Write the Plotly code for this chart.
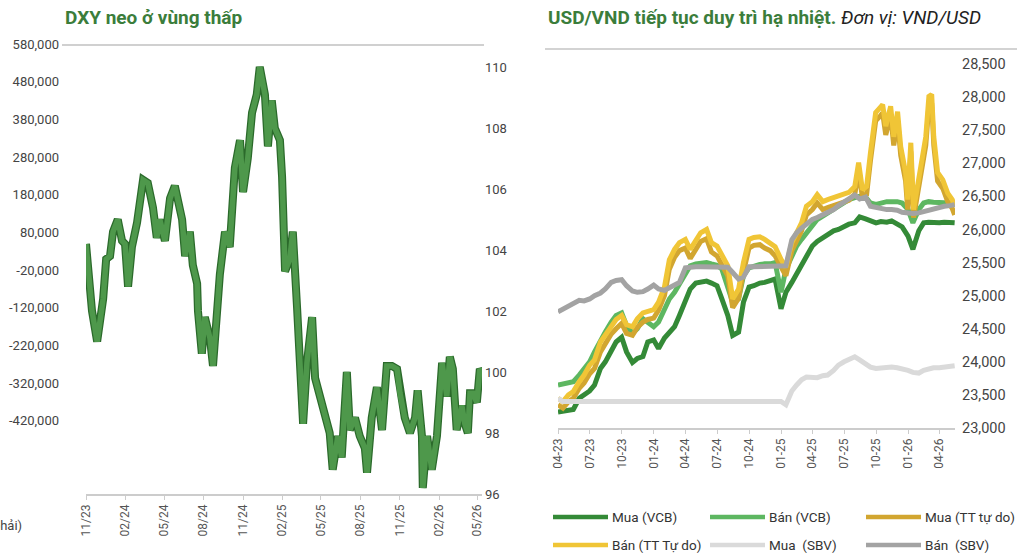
import plotly.graph_objects as go

# ---------------- Left panel: DXY ----------------
dxy_dates = ["2023-11-01","2023-11-06","2023-11-15","2023-11-27","2023-12-06","2023-12-11","2023-12-18","2023-12-27",
             "2024-01-03","2024-01-14","2024-01-24","2024-01-31","2024-02-07","2024-02-16","2024-02-28","2024-03-13",
             "2024-03-24","2024-04-05","2024-04-14","2024-04-21","2024-05-03","2024-05-15","2024-05-26","2024-06-02",
             "2024-06-12","2024-06-19","2024-06-30","2024-07-07","2024-07-17","2024-07-19","2024-07-28","2024-08-04",
             "2024-08-16","2024-08-23","2024-09-01","2024-09-08","2024-09-20","2024-10-01","2024-10-13","2024-10-25",
             "2024-11-01","2024-11-12","2024-11-22","2024-12-03","2024-12-10","2024-12-22","2024-12-29","2025-01-07",
             "2025-01-14","2025-01-26","2025-01-31","2025-02-07","2025-02-18","2025-02-25","2025-03-07","2025-03-14",
             "2025-03-21","2025-03-30","2025-04-11","2025-04-18","2025-04-29","2025-05-11","2025-05-22","2025-05-29",
             "2025-06-10","2025-06-19","2025-07-01","2025-07-08","2025-07-20","2025-07-31","2025-08-12","2025-08-17",
             "2025-08-28","2025-09-09","2025-09-21","2025-10-02","2025-10-14","2025-10-26","2025-11-02","2025-11-13",
             "2025-11-25","2025-12-07","2025-12-13","2025-12-23","2025-12-25","2026-01-04","2026-01-15","2026-01-27",
             "2026-02-08","2026-02-19","2026-02-26","2026-03-05","2026-03-14","2026-03-26","2026-04-02","2026-04-09",
             "2026-04-14","2026-04-21","2026-04-30","2026-05-07","2026-05-12"]
dxy_values = [104.2,103.5,102.0,101.0,101.8,102.4,103.7,103.8,
              104.6,105.0,104.3,104.2,102.8,104.1,104.9,106.3,
              106.2,105.4,104.4,105.0,104.3,105.7,106.1,105.6,
              105.0,103.8,104.6,103.5,102.9,102.0,100.6,101.8,
              101.1,100.2,102.3,103.2,104.6,104.1,106.7,107.6,
              105.9,107.0,108.5,109.1,110.0,109.1,107.4,108.9,
              108.0,107.6,106.4,103.3,103.7,104.6,102.1,100.3,
              98.3,100.3,101.8,99.8,99.2,98.6,98.0,96.8,
              97.9,97.2,100.0,98.1,98.5,97.9,97.5,96.7,
              98.5,99.5,98.1,100.2,100.2,100.1,99.3,98.5,
              98.0,98.5,99.4,97.9,96.2,97.9,96.8,97.9,
              100.3,99.2,100.5,100.1,98.1,98.9,98.3,98.0,
              99.3,99.3,99.0,100.1,100.0]

left_xtick_vals = ["2023-11-01","2024-02-01","2024-05-01","2024-08-01","2024-11-01","2025-02-01",
                   "2025-05-01","2025-08-01","2025-11-01","2026-02-01","2026-05-01"]
left_xtick_text = ["11/23","02/24","05/24","08/24","11/24","02/25","05/25","08/25","11/25","02/26","05/26"]
left_ytick_vals = [580000,480000,380000,280000,180000,80000,-20000,-120000,-220000,-320000,-420000]
left_ytick_text = ["580,000","480,000","380,000","280,000","180,000","80,000","-20,000","-120,000",
                   "-220,000","-320,000","-420,000"]
dxy_ticks = [96,98,100,102,104,106,108,110]

# ---------------- Right panel: USD/VND ----------------
vnd_dates = ["2023-04-01","2023-04-15","2023-05-01","2023-05-15","2023-06-01","2023-06-15","2023-07-01","2023-07-15",
             "2023-08-01","2023-08-15","2023-09-01","2023-09-15","2023-10-01","2023-10-15","2023-11-01","2023-11-15",
             "2023-12-01","2023-12-15",
             "2024-01-01","2024-01-15","2024-02-01","2024-02-15","2024-03-01","2024-03-15","2024-04-01","2024-04-15",
             "2024-05-01","2024-05-15","2024-06-01","2024-06-15","2024-07-01","2024-07-15","2024-08-01","2024-08-15",
             "2024-09-01","2024-09-15","2024-10-01","2024-10-15","2024-11-01","2024-11-15","2024-12-01","2024-12-15",
             "2025-01-01","2025-01-15","2025-02-01","2025-02-15","2025-03-01","2025-03-15","2025-04-01","2025-04-15",
             "2025-05-01","2025-05-15","2025-06-01","2025-06-15","2025-07-01","2025-07-15","2025-08-01","2025-08-15",
             "2025-09-01","2025-09-15","2025-10-01","2025-10-15","2025-11-01","2025-11-15","2025-12-01","2025-12-15",
             "2026-01-01","2026-01-15","2026-02-01","2026-02-15","2026-03-01","2026-03-15","2026-04-01","2026-04-15",
             "2026-05-01","2026-05-15"]

mua_vcb = [23240,23250,23270,23280,23450,23500,23560,23650,23900,24000,24150,24300,24370,24150,23990,24050,24080,24300,
           24330,24200,24360,24450,24530,24700,24930,25100,25190,25210,25220,25190,25150,24950,24700,24400,24450,24900,
           25130,25150,25190,25200,25220,25250,
           24800,25050,25200,25330,25450,25600,25750,25820,25880,25920,25980,26000,26050,26080,26100,26190,26160,26140,
           26100,26120,26110,26130,26090,26040,
           25900,25700,25980,26100,26110,26100,26100,26110,26100,26100]
ban_vcb = [23650,23660,23680,23700,23800,23900,24000,24150,24330,24450,24600,24700,24740,24550,24430,24500,24650,24600,
           24530,24600,24800,24950,25050,25180,25300,25450,25480,25490,25500,25480,25460,25400,25100,24900,24950,25300,
           25420,25450,25470,25480,25480,25500,
           25050,25400,25600,25750,25850,25950,26040,26150,26200,26250,26300,26350,26400,26450,26480,26500,26490,26400,
           26380,26400,26420,26420,26420,26400,
           26300,26100,26300,26400,26420,26410,26400,26410,26400,26400]
mua_sbv = [23450,23400,23400,23400,23400,23400,23400,23400,23400,23400,23400,23400,23400,23400,23400,23400,23400,23400,
           23400,23400,23400,23400,23400,23400,23400,23400,23400,23400,23400,23400,23400,23400,23400,23400,23400,23400,
           23400,23400,23400,23400,23400,23400,
           23400,23350,23560,23650,23730,23770,23760,23760,23790,23800,23870,23950,24000,24040,24075,24030,23980,23920,
           23900,23910,23920,23920,23910,23900,
           23870,23840,23830,23870,23900,23910,23910,23920,23930,23940]
ban_sbv = [24755,24800,24850,24890,24930,24920,24950,25000,25040,25100,25200,25230,25240,25150,25070,25050,25060,25100,
           25160,25100,25080,25120,25160,25200,25420,25435,25435,25435,25435,25435,25435,25435,25430,25350,25250,25280,
           25435,25435,25435,25435,25435,25435,
           25435,25450,25845,25950,26020,26080,26150,26180,26220,26250,26300,26360,26420,26470,26520,26460,26490,26350,
           26330,26310,26300,26300,26290,26260,
           26250,26240,26250,26270,26300,26310,26330,26350,26360,26375]

tt_dates = vnd_dates[:57] + ["2025-08-12","2025-08-23","2025-09-04","2025-09-15","2025-09-30","2025-10-14","2025-10-20",
                             "2025-10-29","2025-11-12","2025-11-21","2025-12-02","2025-12-11","2025-12-25","2025-12-31",
                             "2026-01-09","2026-01-17","2026-02-01","2026-02-12","2026-02-21","2026-03-02","2026-03-10",
                             "2026-03-16","2026-03-27","2026-04-11","2026-04-25","2026-05-08","2026-05-15"]
ban_tt = [23450,23400,23500,23550,23700,23800,23950,24030,24300,24400,24550,24640,24700,24560,24530,24650,24740,24760,
          24790,24900,25130,25540,25700,25800,25850,25700,25850,25950,26000,25800,25750,25600,25450,24950,25100,25500,
          25850,25880,25890,25850,25800,25740,
          25550,25430,25800,25950,26100,26350,26420,26525,26420,26450,26480,26500,26520,26560,26650,
          27010,26600,26650,27160,27765,27850,27885,27560,27860,27400,27780,27250,26860,26450,
          27310,26300,26800,27160,27400,28010,28040,27400,26860,26750,26550,26450,26345]
mua_tt = [23350,23300,23400,23450,23600,23680,23820,23900,24150,24280,24420,24500,24580,24430,24400,24520,24600,24640,
          24660,24780,25000,25400,25580,25680,25720,25560,25720,25820,25860,25660,25600,25450,25300,24820,24960,25360,
          25720,25760,25770,25720,25680,25600,
          25420,25300,25680,25820,25980,26220,26300,26400,26300,26330,26360,26380,26400,26440,26530,
          26880,26480,26530,27040,27640,27720,27760,27430,27730,27270,27650,27120,26730,26300,
          27180,26180,26680,27030,27270,27880,27910,27270,26730,26620,26420,26320,26220]

right_xtick_vals = ["2023-04-01","2023-07-01","2023-10-01","2024-01-01","2024-04-01","2024-07-01","2024-10-01",
                    "2025-01-01","2025-04-01","2025-07-01","2025-10-01","2026-01-01","2026-04-01"]
right_xtick_text = ["04-23","07-23","10-23","01-24","04-24","07-24","10-24","01-25","04-25","07-25","10-25",
                    "01-26","04-26"]
right_ytick_vals = [23000,23500,24000,24500,25000,25500,26000,26500,27000,27500,28000,28500]

W, H = 1024, 557
def px(x):
    return x / W
def py(y):
    return 1 - y / H

fig = go.Figure()

# DXY: dark outline + lighter core
fig.add_trace(go.Scatter(x=dxy_dates, y=dxy_values, mode="lines", xaxis="x", yaxis="y",
                         line=dict(color="#2b6a2b", width=8), showlegend=False, hoverinfo="skip"))
fig.add_trace(go.Scatter(x=dxy_dates, y=dxy_values, mode="lines", xaxis="x", yaxis="y",
                         line=dict(color="#4e984b", width=5.5), showlegend=False, name="DXY"))
# dummy trace for left-hand axis of the left panel
fig.add_trace(go.Scatter(x=[None], y=[None], xaxis="x", yaxis="y3", showlegend=False, hoverinfo="skip"))

series = [
    ("Mua (VCB)", vnd_dates, mua_vcb, "#348a37"),
    ("Bán (VCB)", vnd_dates, ban_vcb, "#5db761"),
    ("Mua (TT tự do)", tt_dates, mua_tt, "#d2a630"),
    ("Bán (TT Tự do)", tt_dates, ban_tt, "#f0c536"),
    ("Mua  (SBV)", vnd_dates, mua_sbv, "#dadada"),
    ("Bán  (SBV)", vnd_dates, ban_sbv, "#a3a3a3"),
]
for name, xs, ys, col in series:
    fig.add_trace(go.Scatter(x=xs, y=ys, mode="lines", name=name, xaxis="x2", yaxis="y2",
                             line=dict(color=col, width=5), showlegend=False))

# manual legend (two rows of three)
legend_cols = [553, 710, 866]
legend_rows = [517, 545]
shapes = [
    dict(type="line", xref="paper", yref="paper", x0=px(62), x1=px(484), y0=py(45), y1=py(45),
         line=dict(color="#d0d0d0", width=2)),
    dict(type="line", xref="paper", yref="paper", x0=px(545), x1=px(1017), y0=py(49), y1=py(49),
         line=dict(color="#d3d3d3", width=2)),
]
annotations = [
    dict(text="<b>DXY neo ở vùng thấp</b>", xref="paper", yref="paper", x=px(63), y=py(18),
         xanchor="left", yanchor="middle", showarrow=False,
         font=dict(family="Roboto", size=19, color="#3b7d3b")),
    dict(text="<b>USD/VND tiếp tục duy trì hạ nhiệt.</b> "
              "<span style='color:#222222'><i>Đơn vị: VND/USD</i></span>",
         xref="paper", yref="paper", x=px(546), y=py(18),
         xanchor="left", yanchor="middle", showarrow=False,
         font=dict(family="Roboto", size=19, color="#3b7d3b")),
    dict(text="DXY (trục phải)", xref="paper", yref="paper", x=px(24), y=py(525),
         xanchor="right", yanchor="middle", showarrow=False,
         font=dict(family="Roboto", size=13, color="#444444")),
]
for i, (name, _, _, col) in enumerate(series):
    cx = legend_cols[i % 3]
    cy = legend_rows[i // 3]
    shapes.append(dict(type="line", xref="paper", yref="paper", x0=px(cx), x1=px(cx + 55),
                       y0=py(cy), y1=py(cy), line=dict(color=col, width=4.5)))
    annotations.append(dict(text=name, xref="paper", yref="paper", x=px(cx + 57), y=py(cy),
                            xanchor="left", yanchor="middle", showarrow=False,
                            font=dict(family="Roboto", size=13.5, color="#333333")))

tickfont = dict(family="Roboto", size=13, color="#444444")
xtickfont = dict(family="Roboto", size=12, color="#555555")
axcol = "#cccccc"

fig.update_layout(
    width=W, height=H, margin=dict(l=0, r=0, t=0, b=0, autoexpand=False),
    paper_bgcolor="white", plot_bgcolor="white", showlegend=False,
    font=dict(family="Roboto", size=13, color="#333333"),
    xaxis=dict(domain=[px(86), px(482)], anchor="y", type="date",
               range=["2023-11-01", "2026-05-12"],
               tickvals=left_xtick_vals, ticktext=left_xtick_text, tickangle=-90,
               tickfont=xtickfont, showgrid=False, zeroline=False,
               showline=True, linecolor=axcol, linewidth=1.5,
               ticks="outside", ticklen=4, tickcolor=axcol),
    yaxis=dict(domain=[py(494), py(44)], anchor="x", side="right",
               range=[96, 110.754], tickvals=dxy_ticks, tickfont=tickfont,
               showgrid=False, zeroline=False, showline=False, ticks="", ticklabelstandoff=2),
    yaxis3=dict(overlaying="y", anchor="free", position=px(59), side="left",
                range=[-614000, 580000], tickvals=left_ytick_vals, ticktext=left_ytick_text,
                tickfont=tickfont, showgrid=False, zeroline=False, showline=False, ticks=""),
    xaxis2=dict(domain=[px(558), px(955)], anchor="y2", type="date",
                range=["2023-04-01", "2026-05-16"],
                tickvals=right_xtick_vals, ticktext=right_xtick_text, tickangle=-90,
                tickfont=xtickfont, showgrid=False, zeroline=False,
                showline=True, linecolor=axcol, linewidth=1.5,
                ticks="outside", ticklen=4, tickcolor=axcol),
    yaxis2=dict(domain=[py(428), py(64)], anchor="x2", side="right",
                range=[23000, 28500], tickvals=right_ytick_vals, tickformat=",d",
                tickfont=dict(family="Roboto", size=14.5, color="#444444"),
                showgrid=False, zeroline=False, showline=False, ticks="", ticklabelstandoff=6),
    shapes=shapes,
    annotations=annotations,
)

fig.write_html("out.html")
